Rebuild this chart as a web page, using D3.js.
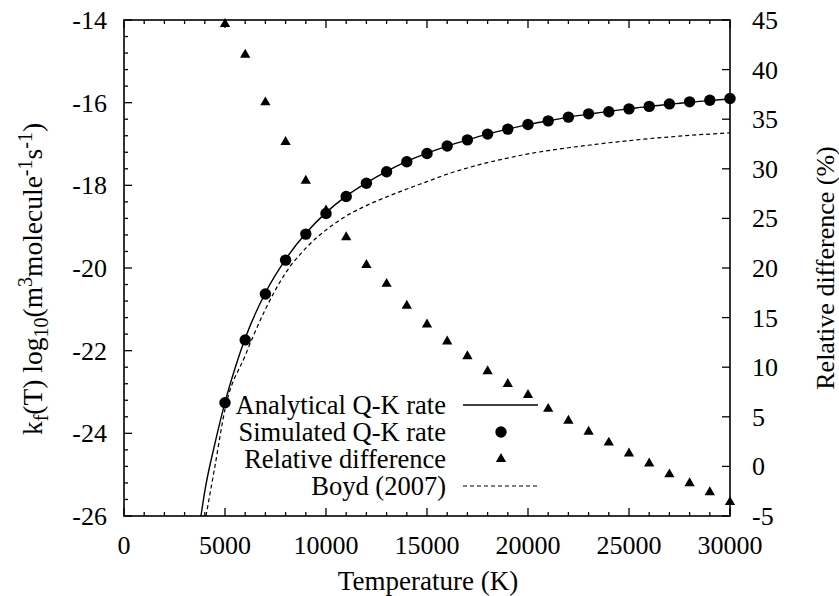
<!DOCTYPE html>
<html>
<head>
<meta charset="utf-8">
<script src="https://cdn.jsdelivr.net/npm/d3@7"></script>
<style>
  body { margin: 0; background: #fff; }
</style>
</head>
<body>
<svg id="chart" width="839" height="596"></svg>
<script>
// simulated Q-K rate, log10 k_f (circles)
var simT = [5000, 6000, 7000, 8000, 9000, 10000, 11000, 12000, 13000, 14000, 15000,
  16000, 17000, 18000, 19000, 20000, 21000, 22000, 23000, 24000, 25000,
  26000, 27000, 28000, 29000, 30000]
var simRate = [-23.26, -21.74, -20.63, -19.81, -19.18, -18.68, -18.27, -17.95, -17.67, -17.43, -17.23,
  -17.05, -16.90, -16.76, -16.64, -16.53, -16.44, -16.35, -16.27, -16.22, -16.15,
  -16.09, -16.03, -15.98, -15.94, -15.90]

// relative difference in % (triangles, right axis)
var relDiff = [44.6, 41.5, 36.7, 32.7, 28.8, 25.8, 23.1, 20.3, 18.4, 16.2, 14.3,
  12.6, 11.1, 9.6, 8.3, 7.2, 5.8, 4.6, 3.5, 2.4, 1.3,
  0.3, -0.8, -1.7, -2.6, -3.6]

// analytical Q-K rate (solid line)
var anaT = [3810, 4000, 4500, 5000, 5500, 6000, 7000, 8000, 9000, 10000, 11000, 12000,
  13000, 14000, 15000, 16000, 17000, 18000, 19000, 20000, 21000, 22000,
  23000, 24000, 25000, 26000, 27000, 28000, 29000, 30000]
var anaRate = [-26.0, -25.4, -24.25, -23.25, -22.42, -21.7, -20.6, -19.79, -19.16, -18.66, -18.26, -17.94,
  -17.66, -17.42, -17.22, -17.05, -16.9, -16.76, -16.64, -16.53, -16.44, -16.35,
  -16.28, -16.21, -16.15, -16.09, -16.04, -15.99, -15.95, -15.91]

// Boyd (2007) (dashed line)
var boydT = [4060, 4500, 5000, 6000, 7000, 8000, 9000, 10000, 11000, 12000, 13000,
  14000, 15000, 16000, 17000, 18000, 19000, 20000, 21000, 22000, 23000,
  24000, 25000, 26000, 27000, 28000, 29000, 30000]
var boydRate = [-26.0, -24.8, -23.42, -22.12, -21.0, -20.12, -19.52, -19.08, -18.74, -18.49, -18.28,
  -18.09, -17.91, -17.73, -17.58, -17.45, -17.34, -17.24, -17.16, -17.09, -17.03,
  -16.97, -16.92, -16.87, -16.83, -16.79, -16.76, -16.73]

var xTicks = [0, 5000, 10000, 15000, 20000, 25000, 30000]
var yTicks = [-26, -24, -22, -20, -18, -16, -14]
var y2Ticks = [-5, 0, 5, 10, 15, 20, 25, 30, 35, 40, 45]
var legendLabels = ['Analytical Q-K rate', 'Simulated Q-K rate', 'Relative difference', 'Boyd (2007)']

var L = 124, R = 730, T = 20, B = 516
var fs = 26
var serif = 'Liberation Serif'

var svg = d3.select('#chart').style('font-family', serif)

var x = d3.scaleLinear().domain([0, 30000]).range([L, R])
var y = d3.scaleLinear().domain([-26, -14]).range([B, T])
var y2 = d3.scaleLinear().domain([-5, 45]).range([B, T])

svg.append('clipPath').attr('id', 'plotclip')
  .append('rect').attr('x', L).attr('y', T).attr('width', R - L).attr('height', B - T)

// ticks: major and minor, drawn inward
var tk = svg.append('g').attr('stroke', '#000').attr('stroke-width', 1.3)
d3.range(0, 30001, 1000).forEach(function(v) {
  var len = v % 5000 === 0 ? 8 : 4
  tk.append('line').attr('x1', x(v)).attr('x2', x(v)).attr('y1', B).attr('y2', B - len)
  tk.append('line').attr('x1', x(v)).attr('x2', x(v)).attr('y1', T).attr('y2', T + len)
})
d3.range(0, 31).forEach(function(i) {
  var v = -26 + i * 0.4
  var len = i % 5 === 0 ? 8 : 4
  tk.append('line').attr('x1', L).attr('x2', L + len).attr('y1', y(v)).attr('y2', y(v))
})
y2Ticks.forEach(function(v) {
  tk.append('line').attr('x1', R).attr('x2', R - 8).attr('y1', y2(v)).attr('y2', y2(v))
})

// tick labels
svg.append('g').selectAll('text').data(xTicks).enter().append('text')
  .attr('x', function(d) { return x(d) }).attr('y', 554)
  .attr('text-anchor', 'middle').attr('font-size', fs).style('font-family', serif)
  .text(function(d) { return d })
svg.append('g').selectAll('text').data(yTicks).enter().append('text')
  .attr('x', 107).attr('y', function(d) { return y(d) + 9 })
  .attr('text-anchor', 'end').attr('font-size', fs).style('font-family', serif)
  .text(function(d) { return d })
svg.append('g').selectAll('text').data(y2Ticks).enter().append('text')
  .attr('x', 752).attr('y', function(d) { return y2(d) + 9 })
  .attr('text-anchor', 'start').attr('font-size', fs).style('font-family', serif)
  .text(function(d) { return d })

// axis titles
svg.append('text').attr('x', 428).attr('y', 590).attr('text-anchor', 'middle')
  .attr('font-size', 27).style('font-family', serif).text('Temperature (K)')

var yt = svg.append('text').attr('transform', 'translate(42,279) rotate(-90)')
  .attr('text-anchor', 'middle').attr('font-size', 27.5).style('font-family', serif)
yt.append('tspan').text('k')
yt.append('tspan').attr('dy', 6).attr('font-size', 20).text('f')
yt.append('tspan').attr('dy', -6).text('(T) log')
yt.append('tspan').attr('dy', 6).attr('font-size', 20).text('10')
yt.append('tspan').attr('dy', -6).text('(m')
yt.append('tspan').attr('dy', -10).attr('font-size', 20).text('3')
yt.append('tspan').attr('dy', 10).text('molecule')
yt.append('tspan').attr('dy', -10).attr('font-size', 20).text('-1')
yt.append('tspan').attr('dy', 10).text('s')
yt.append('tspan').attr('dy', -10).attr('font-size', 20).text('-1')
yt.append('tspan').attr('dy', 10).text(')')

svg.append('text').attr('transform', 'translate(834,268) rotate(-90)')
  .attr('text-anchor', 'middle').attr('font-size', fs).style('font-family', serif)
  .text('Relative difference (%)')

// curves
var plot = svg.append('g').attr('clip-path', 'url(#plotclip)')
var line = d3.line()
  .x(function(d) { return x(d[0]) })
  .y(function(d) { return y(d[1]) })
  .curve(d3.curveMonotoneX)

plot.append('path').datum(d3.zip(anaT, anaRate)).attr('d', line)
  .attr('fill', 'none').attr('stroke', '#000').attr('stroke-width', 1.4)
plot.append('path').datum(d3.zip(boydT, boydRate)).attr('d', line)
  .attr('fill', 'none').attr('stroke', '#000').attr('stroke-width', 1.2)
  .attr('stroke-dasharray', '4,3')

var tri = d3.symbol().type(d3.symbolTriangle).size(46)

svg.append('g').selectAll('circle').data(d3.zip(simT, simRate)).enter().append('circle')
  .attr('cx', function(d) { return x(d[0]) }).attr('cy', function(d) { return y(d[1]) })
  .attr('r', 5.7).attr('fill', '#000')

svg.append('g').selectAll('path').data(d3.zip(simT, relDiff)).enter().append('path')
  .attr('d', tri)
  .attr('transform', function(d) { return 'translate(' + x(d[0]) + ',' + y2(d[1]) + ')' })
  .attr('fill', '#000')

// key
var key = svg.append('g')
var rowY = [405, 432, 459, 486]
legendLabels.forEach(function(lab, i) {
  key.append('text').attr('x', 446).attr('y', rowY[i] + 9)
    .attr('text-anchor', 'end').attr('font-size', 26.5).style('font-family', serif).text(lab)
})
key.append('line').attr('x1', 463).attr('x2', 538).attr('y1', rowY[0]).attr('y2', rowY[0])
  .attr('stroke', '#000').attr('stroke-width', 1.4)
key.append('circle').attr('cx', 501).attr('cy', rowY[1]).attr('r', 5.7).attr('fill', '#000')
key.append('path').attr('d', tri).attr('transform', 'translate(501,' + rowY[2] + ')').attr('fill', '#000')
key.append('line').attr('x1', 463).attr('x2', 538).attr('y1', rowY[3]).attr('y2', rowY[3])
  .attr('stroke', '#000').attr('stroke-width', 1.2).attr('stroke-dasharray', '4,3')

// frame
svg.append('rect').attr('x', L).attr('y', T).attr('width', R - L).attr('height', B - T)
  .attr('fill', 'none').attr('stroke', '#000').attr('stroke-width', 1.6)
</script>
</body>
</html>
